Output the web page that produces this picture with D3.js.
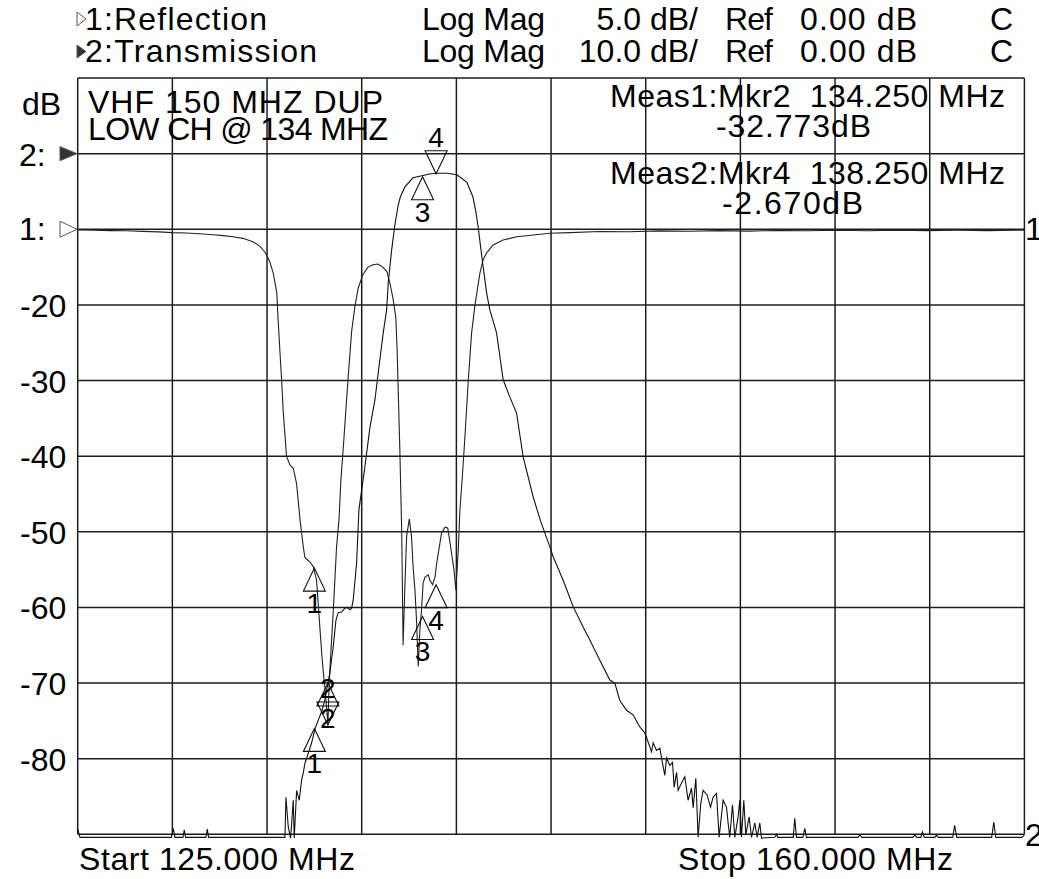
<!DOCTYPE html>
<html><head><meta charset="utf-8">
<script src="https://cdn.jsdelivr.net/npm/d3@7"></script>
<style>
html,body{margin:0;padding:0;background:#fff;}
text{font-family:"Liberation Sans",Arial,sans-serif;fill:#000;white-space:pre;}
</style></head>
<body>
<svg id="chart" width="1039" height="879"></svg>
<script>
// ---- Data ----
const freqDomain = [125, 160];        // MHz
const xGridStep = 3.5;                 // MHz / division
const trace2Ticks = [-20, -30, -40, -50, -60, -70, -80];

// Trace 1: Reflection (5 dB/div, ref 0 dB)
const t1Freq = [125.00,125.60,126.20,126.80,127.40,128.00,128.50,129.00,129.50,130.00,130.40,130.74,131.10,131.48,131.75,131.92,132.04,132.11,132.23,132.36,132.41,132.48,132.54,132.60,132.72,132.85,132.97,133.09,133.22,133.34,133.40,133.52,133.59,133.71,133.83,133.89,133.96,134.02,134.08,134.14,134.20,134.25,134.29,134.33,134.45,134.57,134.66,134.73,134.84,134.99,135.13,135.25,135.37,135.54,135.73,135.91,136.10,136.28,136.43,136.54,136.65,136.76,136.81,136.86,136.91,136.98,137.03,137.10,137.16,137.26,137.34,137.40,137.47,137.53,137.59,137.65,137.71,137.77,137.84,137.96,138.02,138.12,138.21,138.27,138.37,138.45,138.58,138.68,138.73,138.82,138.91,138.98,139.07,139.13,139.23,139.31,139.44,139.56,139.68,139.87,139.99,140.12,140.36,140.73,141.23,141.84,142.46,143.20,144.30,145.40,146.50,147.60,148.70,149.80,150.90,152.00,153.10,154.20,155.30,156.40,157.50,158.60,160.00];
const t1Db = [-0.05,-0.06,-0.09,-0.10,-0.14,-0.17,-0.22,-0.25,-0.30,-0.36,-0.42,-0.49,-0.60,-0.82,-1.15,-1.50,-1.90,-2.20,-2.90,-4.20,-6.00,-8.20,-10.00,-12.10,-15.00,-15.60,-15.80,-16.80,-19.20,-21.00,-21.70,-21.90,-22.00,-22.30,-23.20,-24.70,-26.50,-28.00,-29.30,-30.30,-31.60,-32.77,-30.40,-28.90,-25.20,-21.00,-19.20,-16.60,-13.90,-10.00,-6.70,-5.10,-3.90,-3.00,-2.50,-2.35,-2.30,-2.50,-2.80,-3.55,-4.50,-5.80,-8.00,-11.30,-14.60,-20.10,-27.50,-23.40,-20.30,-19.15,-20.30,-22.30,-23.90,-26.00,-28.90,-26.50,-25.20,-23.40,-23.00,-22.85,-23.20,-23.50,-23.00,-22.10,-21.00,-20.10,-19.70,-19.75,-20.30,-21.40,-22.50,-23.85,-21.20,-18.60,-16.10,-13.90,-10.00,-6.90,-5.10,-2.90,-2.00,-1.56,-1.04,-0.71,-0.49,-0.38,-0.26,-0.22,-0.15,-0.16,-0.11,-0.13,-0.09,-0.12,-0.08,-0.10,-0.07,-0.10,-0.06,-0.09,-0.07,-0.09,-0.06];

// Trace 2: Transmission (10 dB/div, ref 0 dB)
const t2Freq = [125.000,125.085,128.467,128.533,128.596,128.890,128.940,128.990,129.740,129.790,129.840,132.662,132.699,132.784,132.872,132.968,133.005,133.094,133.190,133.279,133.338,133.401,133.523,133.648,133.771,133.892,134.018,134.140,134.250,134.325,134.447,134.547,134.632,134.757,134.879,134.964,135.064,135.127,135.186,135.312,135.397,135.497,135.619,135.804,135.988,136.110,136.295,136.421,136.480,136.605,136.727,136.849,136.930,137.097,137.393,137.762,138.000,138.280,138.650,139.019,139.389,139.610,139.721,139.806,139.887,139.991,140.117,140.239,140.486,140.730,140.978,141.225,141.469,141.839,142.124,142.456,142.578,142.948,143.317,143.687,143.934,144.304,144.674,144.858,145.043,145.291,145.535,145.783,145.968,146.090,146.214,146.274,146.400,146.522,146.621,146.706,146.769,146.892,146.991,147.051,147.140,147.198,147.323,147.445,147.567,147.693,147.752,147.852,147.937,148.036,148.122,148.270,148.395,148.491,148.617,148.713,148.861,148.986,149.046,149.108,149.208,149.294,149.415,149.478,149.541,149.626,149.700,149.822,149.911,150.033,150.118,150.218,150.280,150.770,150.834,150.880,151.455,151.510,151.574,151.810,151.881,151.943,153.840,153.913,153.990,155.870,155.946,156.020,156.170,156.230,156.300,156.690,156.750,156.820,157.350,157.420,157.500,158.790,158.870,158.940,159.900,160.000];
const t2Db = [-89.3,-90.4,-90.4,-89.2,-90.4,-90.4,-89.4,-90.4,-90.4,-89.3,-90.4,-90.4,-85.1,-89.0,-90.5,-85.5,-90.5,-84.2,-85.5,-82.8,-81.9,-80.6,-79.3,-77.9,-76.1,-74.9,-73.8,-72.2,-70.0,-68.6,-65.2,-61.7,-60.7,-60.6,-60.1,-60.0,-60.3,-60.1,-59.0,-54.1,-47.1,-44.5,-41.4,-36.2,-32.6,-29.0,-23.7,-20.7,-17.1,-12.8,-9.4,-6.8,-5.7,-4.4,-3.2,-2.9,-2.7,-2.6,-2.6,-2.8,-3.8,-5.7,-7.7,-9.7,-12.1,-15.0,-18.4,-20.7,-23.7,-29.9,-32.2,-34.3,-40.1,-45.4,-48.7,-52.0,-53.3,-56.4,-59.9,-62.6,-64.3,-67.0,-69.6,-70.0,-72.3,-73.6,-74.2,-75.8,-76.6,-77.8,-79.1,-77.9,-78.9,-78.6,-80.6,-82.2,-79.9,-80.9,-80.5,-83.8,-81.8,-84.2,-83.2,-82.4,-85.5,-83.9,-86.5,-82.6,-90.4,-85.9,-84.2,-84.8,-86.4,-85.1,-84.6,-90.4,-85.5,-86.4,-88.5,-90.4,-86.1,-90.4,-87.7,-85.5,-90.4,-85.5,-90.1,-87.7,-90.4,-88.5,-90.4,-88.5,-90.5,-90.4,-90.0,-90.4,-90.4,-87.9,-90.4,-90.4,-89.2,-90.4,-90.4,-90.1,-90.4,-90.4,-90.1,-90.4,-90.4,-89.7,-90.4,-90.4,-90.1,-90.4,-90.4,-88.8,-90.4,-90.4,-88.4,-90.4,-90.4,-90.1];

// Markers (shared frequencies), values per trace
const markerIds = ["1", "2", "3", "4"];
const markerFreq = [133.75, 134.25, 137.75, 138.25];
const markerT1Db = [-22.4, -32.77, -25.6, -23.5];
const markerT2Db = [-76.0, -70.0, -3.05, -2.67];
const activeT1 = "2", activeT2 = "4";

// Header / annotation texts
const headerRow1 = ["1:Reflection", "Log Mag", "5.0 dB/", "Ref", "0.00 dB", "C"];
const headerRow2 = ["2:Transmission", "Log Mag", "10.0 dB/", "Ref", "0.00 dB", "C"];
const titleLines = ["VHF 150 MHZ DUP", "LOW CH @ 134 MHZ"];
const measLines = ["Meas1:Mkr2  134.250 MHz", "-32.773dB", "Meas2:Mkr4  138.250 MHz", "-2.670dB"];
const startStop = ["Start 125.000 MHz", "Stop 160.000 MHz"];

// ---- Drawing ----
const svg = d3.select("#chart");
svg.append("rect").attr("width", 1039).attr("height", 879).attr("fill", "#fff");

const L = 77.7, R = 1024.4, T = 78, B = 834.3;
const x = d3.scaleLinear().domain(freqDomain).range([L, R]);
const y2 = d3.scaleLinear().domain([10, -90]).range([T, B]);
const y1 = d3.scaleLinear().domain([10, -40]).range([T, B]);

// grid
const grid = svg.append("g").attr("stroke", "#1c1c1c").attr("stroke-width", 1.5).attr("fill", "none");
const xg = d3.range(freqDomain[0], freqDomain[1] + 0.001, xGridStep);
grid.selectAll("line.v").data(xg).join("line")
  .attr("x1", d => x(d)).attr("x2", d => x(d)).attr("y1", T).attr("y2", B);
const yg = d3.range(10, -90.001, -10);
grid.selectAll("line.h").data(yg).join("line")
  .attr("x1", L).attr("x2", R).attr("y1", d => y2(d)).attr("y2", d => y2(d));

// traces
const line1 = d3.line().x((d, i) => x(t1Freq[i])).y(d => y1(d));
const line2 = d3.line().x((d, i) => x(t2Freq[i])).y(d => y2(d));
svg.append("path").datum(t1Db).attr("d", line1).attr("fill", "none").attr("stroke", "#222").attr("stroke-width", 1.1);
svg.append("path").datum(t2Db).attr("d", line2).attr("fill", "none").attr("stroke", "#111").attr("stroke-width", 1.1);

// markers
function drawMarkers(vals, yS, active) {
  const g = svg.append("g");
  markerIds.forEach((id, i) => {
    const px = x(markerFreq[i]), py = yS(vals[i]);
    const w = 11, h = 23;
    if (id === active) {
      g.append("path").attr("d", `M${px - w},${py - h}L${px + w},${py - h}L${px},${py}Z`)
        .attr("fill", "none").attr("stroke", "#111").attr("stroke-width", 1.1);
      g.append("text").attr("x", px).attr("y", py - h - 4).attr("text-anchor", "middle")
        .attr("font-size", 28).text(id);
    } else {
      g.append("path").attr("d", `M${px},${py}L${px - w},${py + h}L${px + w},${py + h}Z`)
        .attr("fill", "none").attr("stroke", "#111").attr("stroke-width", 1.1);
      g.append("text").attr("x", px).attr("y", py + h + 22).attr("text-anchor", "middle")
        .attr("font-size", 28).text(id);
    }
  });
}
drawMarkers(markerT1Db, y1, activeT1);
drawMarkers(markerT2Db, y2, activeT2);

// text helper
function txt(s, px, py, opts = {}) {
  const t = svg.append("text").attr("x", px).attr("y", py).attr("font-size", opts.size || 32).text(s);
  if (opts.anchor) t.attr("text-anchor", opts.anchor);
  if (opts.len) t.attr("textLength", opts.len).attr("lengthAdjust", "spacing");
  return t;
}

// header rows
const colX = [85, 422, 698, 725, 800, 990];
const lens1 = [182, 123, null, 48, 117, null];
const lens2 = [232, 123, null, 48, 117, null];
[[headerRow1, 30, lens1], [headerRow2, 62, lens2]].forEach(([row, by, lens]) => {
  row.forEach((s, i) => {
    txt(s, colX[i], by, { anchor: i === 2 ? "end" : null, len: lens[i] });
  });
});
// legend triangles
svg.append("path").attr("d", "M77,12L77,26L86,19Z").attr("fill", "#fff").attr("stroke", "#555").attr("stroke-width", 1);
svg.append("path").attr("d", "M77,45L77,58L86,51.5Z").attr("fill", "#333").attr("stroke", "#555").attr("stroke-width", 1);

// y labels
txt("dB", 22, 115);
txt("2:", 19, y2(0) + 12);
txt("1:", 19, y1(0) + 11);
svg.append("path").attr("d", `M60,${y2(0) - 7}L60,${y2(0) + 7}L77,${y2(0)}Z`).attr("fill", "#333").attr("stroke", "#555").attr("stroke-width", 1);
svg.append("path").attr("d", `M60,${y1(0) - 8}L60,${y1(0) + 8}L77,${y1(0)}Z`).attr("fill", "#fff").attr("stroke", "#555").attr("stroke-width", 1);
trace2Ticks.forEach(v => txt(String(v), 20, y2(v) + 12));
txt("1", 1025, y1(0) + 11);
txt("2", 1025, 846);

// annotations
txt(titleLines[0], 88, 113, { len: 295 });
txt(titleLines[1], 88, 140, { len: 300 });
txt(measLines[0], 610, 107, { len: 395 });
txt(measLines[1], 716, 137, { len: 155 });
txt(measLines[2], 610, 184, { len: 395 });
txt(measLines[3], 722, 214, { len: 141 });

txt(startStop[0], 79, 870, { len: 276 });
txt(startStop[1], 678, 870, { len: 275 });
</script>
</body></html>
